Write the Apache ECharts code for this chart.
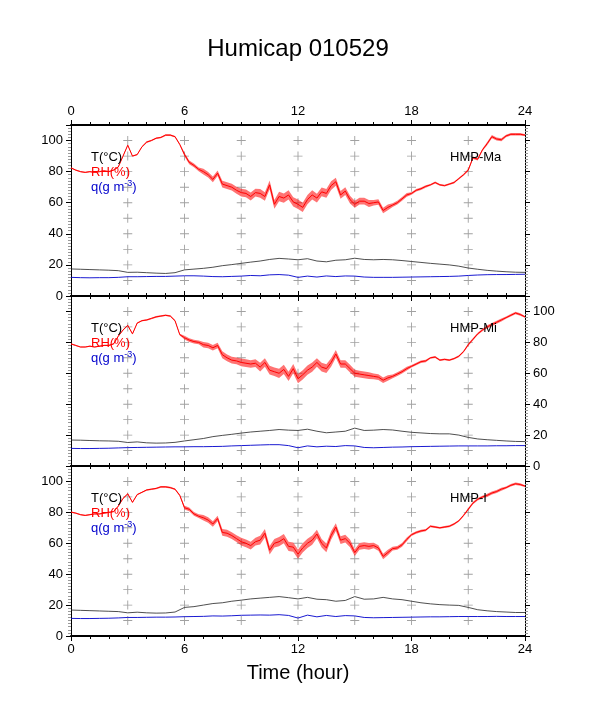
<!DOCTYPE html>
<html>
<head>
<meta charset="utf-8">
<script src="https://cdn.jsdelivr.net/npm/echarts@6.0.0/dist/echarts.min.js"></script>
<style>
html, body { margin: 0; padding: 0; background: #fff; }
#chart { width: 598px; height: 708px; }
</style>
</head>
<body>
<div id="chart"></div>
<script>
// hours: RH every 15 min, T and q every 30 min
let hoursFine = [];
for (let i = 0; i <= 96; i++) hoursFine.push(i * 0.25);
let hoursCoarse = [];
for (let i = 0; i <= 48; i++) hoursCoarse.push(i * 0.5);

let hourTicks = [0, 6, 12, 18, 24];
let levelTicks = [0, 20, 40, 60, 80, 100];
let crossHours = [3, 6, 9, 12, 15, 18, 21];
let crossLevels = [10, 20, 30, 40, 50, 60, 70, 80, 90, 100];

// half width of the fast RH fluctuations, one value per hour 0..24
let rhSpread = [0.4,0.4,0.4,0.4,0.5,0.5,1.2,1.8,2.2,2.5,2.8,3,3,2.8,2.5,2.2,1.8,1.2,0.8,0.6,0.6,0.8,1,0.8,0.6];

// HMP-Ma
let rhMa = [82.4,81,80,79.5,80,79.5,80,80.5,80,81,
    83,90,97,90,91,96,99,100,101.5,102,
    103.5,103.5,102.5,97.5,91,86,84,81.5,80,78,
    75,79,72,71,70,68,66.5,66,64,66.5,
    66,64,71.5,59,64,63,65,60.5,59,57,
    62,65,63,67,66,71,73.5,65,67.5,62,
    59,61,61,59.5,60,60.5,55,57,58.5,60,
    62.5,65,66,68,69,70.5,71.5,73,71.5,71,
    72,73,75.5,78,81,89,88,94,98,102.5,
    101,100.5,103,104,104,104,103.5];
let tMa = [17.4,17.2,17,16.8,16.6,16.3,15.2,15.3,15,14.7,
    14.5,15,16.8,17.3,17.8,18.5,19.5,20.2,21,21.8,
    22.5,23.5,24.2,23.8,23.3,24,22.5,22,23,23.3,
    24.3,23.5,23.3,23.5,23.3,22.8,22.2,21.6,21,20.5,
    20,19.2,18,17.2,16.5,16,15.6,15.3,15.2];
let qMa = [12,11.8,11.7,11.8,11.8,12,12.4,12.4,12.5,12.6,
    12.6,12.8,13,13,12.8,12.5,12.4,12.6,12.8,13.2,
    13,13.6,13.8,13.4,12,12.8,12.2,12.9,12.5,12.9,
    12.8,12.2,12,12,12,12.1,12.2,12.3,12.4,12.5,
    12.6,12.8,13.2,13.5,13.7,13.8,13.8,13.9,14];

// HMP-Mi
let rhMi = [79,78,77,77,77.5,77,77.5,78,78,79,
    84,88,91,85.5,92.5,94,94.5,95.5,96.5,97,
    97.5,97,94,85,83,81.5,80.5,80,78.5,78,
    76.5,78,72,70,68.5,68,67,66.5,66,66.5,
    64,67,62,61,60,62.5,58,63,56.5,59,
    62,64,67,64,63,67,72.5,66,66,63,
    60,59.5,59,58.5,58,57.5,55.5,57,58,59.5,
    61,63,64.5,66,67.5,68,70,70.5,68.5,69,
    68.5,69.5,71,74,78.5,82,85.5,88,90,91.5,
    93,94.5,96,97.5,99,98,96.5];
let tMi = [16.8,16.7,16.5,16.3,16.2,16,15.2,15.6,15,14.8,
    14.9,15.3,16.2,17,17.8,19,19.8,20.5,21.3,22,
    22.5,23,23.6,23.2,23,23.8,22.5,21.5,22,22.5,
    24.5,23,23.2,23.6,23.3,22.5,21.8,21.4,21,20.8,
    20.8,20,18.5,17.5,17,16.6,16.2,15.9,15.8];
let qMi = [11.4,11.3,11.3,11.4,11.5,11.7,11.9,12,12.1,12.2,
    12.3,12.4,12.4,12.5,12.5,12.6,12.7,13,13.2,13.4,
    13.6,13.8,13.8,13.2,11.8,13,12.4,12.8,12.6,13.2,
    13,12,11.8,12,12.2,12.3,12.5,12.6,12.7,12.8,
    12.9,13,13,13,13,13.1,13.1,13.2,13.2];

// HMP-I
let rhI = [80.2,79.5,78.5,78,78.5,79,79,79.5,80,80.5,
    84,89,92,86.5,91.5,93,94.5,95,95.5,96.5,
    96.5,96,95,91,83,82,79,77.5,76.5,75,
    72.5,76,67,66.5,65,63,61,60,58.5,61,
    62,66.5,55.5,60,61,63,58,57.5,53,57,
    60,62,66,60,57,65,70.5,62,63,60,
    54,58,58.5,58,58.5,57,51.5,54,56.5,57,
    59,62.5,65.5,67,68,68.5,71,70.5,70,70.5,
    71,72.5,74.5,78,82,86,88.5,90,91,92.5,
    93.5,95,96,97.5,98.5,98,97];
let tI = [16.8,16.6,16.4,16.2,16,15.8,15,15.4,15,14.8,
    14.9,15.5,18.5,19,20,21,21.5,22.5,23.2,24,
    24.5,25,25.5,24.8,24,25,23.8,23.5,22.5,23,
    25.5,23.8,24,25,24,23.5,22.5,21.5,20.8,20.3,
    20,19.8,18.5,17,16.3,15.8,15.5,15.2,15.2];
let qI = [11.4,11.3,11.3,11.4,11.5,11.7,12,12,12.1,12.2,
    12.2,12.3,12.5,12.6,12.7,13,12.9,13.1,13.4,13.5,
    13.6,13.5,13.8,13.3,11.6,13.5,12.4,13.3,12.6,13.2,
    13,12,11.8,11.9,12,12.1,12.2,12.3,12.4,12.4,
    12.5,12.6,12.6,12.6,12.6,12.7,12.6,12.6,12.6];

const FONT = '"Liberation Sans", Arial, Helvetica, sans-serif';

let panels = [
    {name: 'HMP-Ma', top: 125, height: 171, rh: rhMa, t: tMa, q: qMa, labelSide: 'left'},
    {name: 'HMP-Mi', top: 296, height: 170, rh: rhMi, t: tMi, q: qMi, labelSide: 'right'},
    {name: 'HMP-I', top: 466, height: 170, rh: rhI, t: tI, q: qI, labelSide: 'left'}
];

function pairs(xs, ys) {
    return ys.map((v, k) => [xs[k], v]);
}
function spreadAt(k) {
    return rhSpread[Math.floor(hoursFine[k])];
}

// polygon around the RH trace, drawn through the axes of the panel
function bandRenderer(rh) {
    return function(params, api) {
        let upper = rh.map((v, k) => api.coord([hoursFine[k], v + spreadAt(k)]));
        let lower = rh.map((v, k) => api.coord([hoursFine[k], v - spreadAt(k)])).reverse();
        return {
            type: 'polygon',
            shape: {points: upper.concat(lower)},
            style: {fill: 'rgba(255,0,0,0.55)', stroke: null}
        };
    };
}

let crossData = [];
crossHours.forEach(function(h) {
    crossLevels.forEach(function(l) { crossData.push([h, l]); });
});

let grids = [], xAxes = [], yAxes = [], series = [], graphics = [];

panels.forEach(function(p, i) {
    grids.push({left: 71, width: 454, top: p.top, height: p.height});

    ['bottom', 'top'].forEach(function(pos) {
        let showLabel = (pos === 'bottom' && i === 2) || (pos === 'top' && i === 0);
        xAxes.push({
            gridIndex: i, type: 'value', position: pos,
            min: 0, max: 24, interval: 6,
            axisLine: {show: true, onZero: false, lineStyle: {color: '#000', width: 2}},
            axisTick: {show: true, length: 5, lineStyle: {color: '#000', width: 1}},
            minorTick: {show: true, splitNumber: 6, length: 3, lineStyle: {color: '#000', width: 1}},
            splitLine: {show: false},
            axisLabel: {
                show: showLabel, margin: 7, color: '#000', fontSize: 13, fontFamily: FONT,
                formatter: v => hourTicks.includes(v) ? String(v) : ''
            }
        });
    });

    ['left', 'right'].forEach(function(pos) {
        yAxes.push({
            gridIndex: i, type: 'value', position: pos,
            min: 0, max: 110, interval: 20,
            axisLine: {show: true, onZero: false, lineStyle: {color: '#000', width: 1}},
            axisTick: {show: true, length: 5, lineStyle: {color: '#000', width: 1}},
            minorTick: {show: true, splitNumber: 10, length: 3, lineStyle: {color: '#999', width: 1}},
            splitLine: {show: false},
            axisLabel: {
                show: pos === p.labelSide, margin: 8, color: '#000', fontSize: 13, fontFamily: FONT,
                showMaxLabel: false,
                formatter: v => levelTicks.includes(v) ? String(v) : ''
            }
        });
    });

    let xi = 2 * i, yi = 2 * i;
    series.push({
        type: 'scatter', xAxisIndex: xi, yAxisIndex: yi, silent: true, z: 1,
        symbol: 'path://M4.5,0H5.5V10H4.5Z M0,4.5H10V5.5H0Z', symbolSize: 9,
        itemStyle: {color: '#8a8a8a'}, data: crossData
    });
    series.push({
        type: 'line', name: 'T', xAxisIndex: xi, yAxisIndex: yi, showSymbol: false, z: 3,
        lineStyle: {color: '#222', width: 0.8}, data: pairs(hoursCoarse, p.t)
    });
    series.push({
        type: 'line', name: 'q', xAxisIndex: xi, yAxisIndex: yi, showSymbol: false, z: 3,
        lineStyle: {color: '#0000cc', width: 0.9}, data: pairs(hoursCoarse, p.q)
    });
    series.push({
        type: 'custom', name: 'RH band', xAxisIndex: xi, yAxisIndex: yi, silent: true, z: 2,
        renderItem: bandRenderer(p.rh), data: [[12, 50]]
    });
    series.push({
        type: 'line', name: 'RH', xAxisIndex: xi, yAxisIndex: yi, showSymbol: false, z: 4,
        lineStyle: {color: '#ff0000', width: 1}, data: pairs(hoursFine, p.rh)
    });

    let txt = {font: '13px ' + FONT, verticalAlign: 'middle'};
    graphics.push({type: 'text', x: 91, y: p.top + 32, z: 10,
        style: Object.assign({text: 'T(\u00B0C)', fill: '#000'}, txt)});
    graphics.push({type: 'text', x: 91, y: p.top + 47, z: 10,
        style: Object.assign({text: 'RH(%)', fill: '#ff0000'}, txt)});
    graphics.push({type: 'text', x: 91, y: p.top + 62, z: 10,
        style: {
            text: '{a|q(g m}{s|-3}{a|)}', verticalAlign: 'middle',
            rich: {
                a: {fontSize: 13, fontFamily: FONT, fill: '#0000cc', color: '#0000cc'},
                s: {fontSize: 9, fontFamily: FONT, fill: '#0000cc', color: '#0000cc', verticalAlign: 'top', padding: [0, 0, 6, 0]}
            }
        }});
    graphics.push({type: 'text', x: 450, y: p.top + 32, z: 10,
        style: Object.assign({text: p.name, fill: '#000'}, txt)});
});

graphics.push({type: 'text', x: 298, y: 49, z: 10,
    style: {text: 'Humicap 010529', fill: '#000', font: '24px ' + FONT, align: 'center', verticalAlign: 'middle'}});
graphics.push({type: 'text', x: 298, y: 673, z: 10,
    style: {text: 'Time (hour)', fill: '#000', font: '20px ' + FONT, align: 'center', verticalAlign: 'middle'}});

let chart = echarts.init(document.getElementById('chart'), null, {renderer: 'canvas'});
chart.setOption({
    animation: false,
    backgroundColor: '#fff',
    grid: grids,
    xAxis: xAxes,
    yAxis: yAxes,
    series: series,
    graphic: graphics
});
</script>
</body>
</html>
